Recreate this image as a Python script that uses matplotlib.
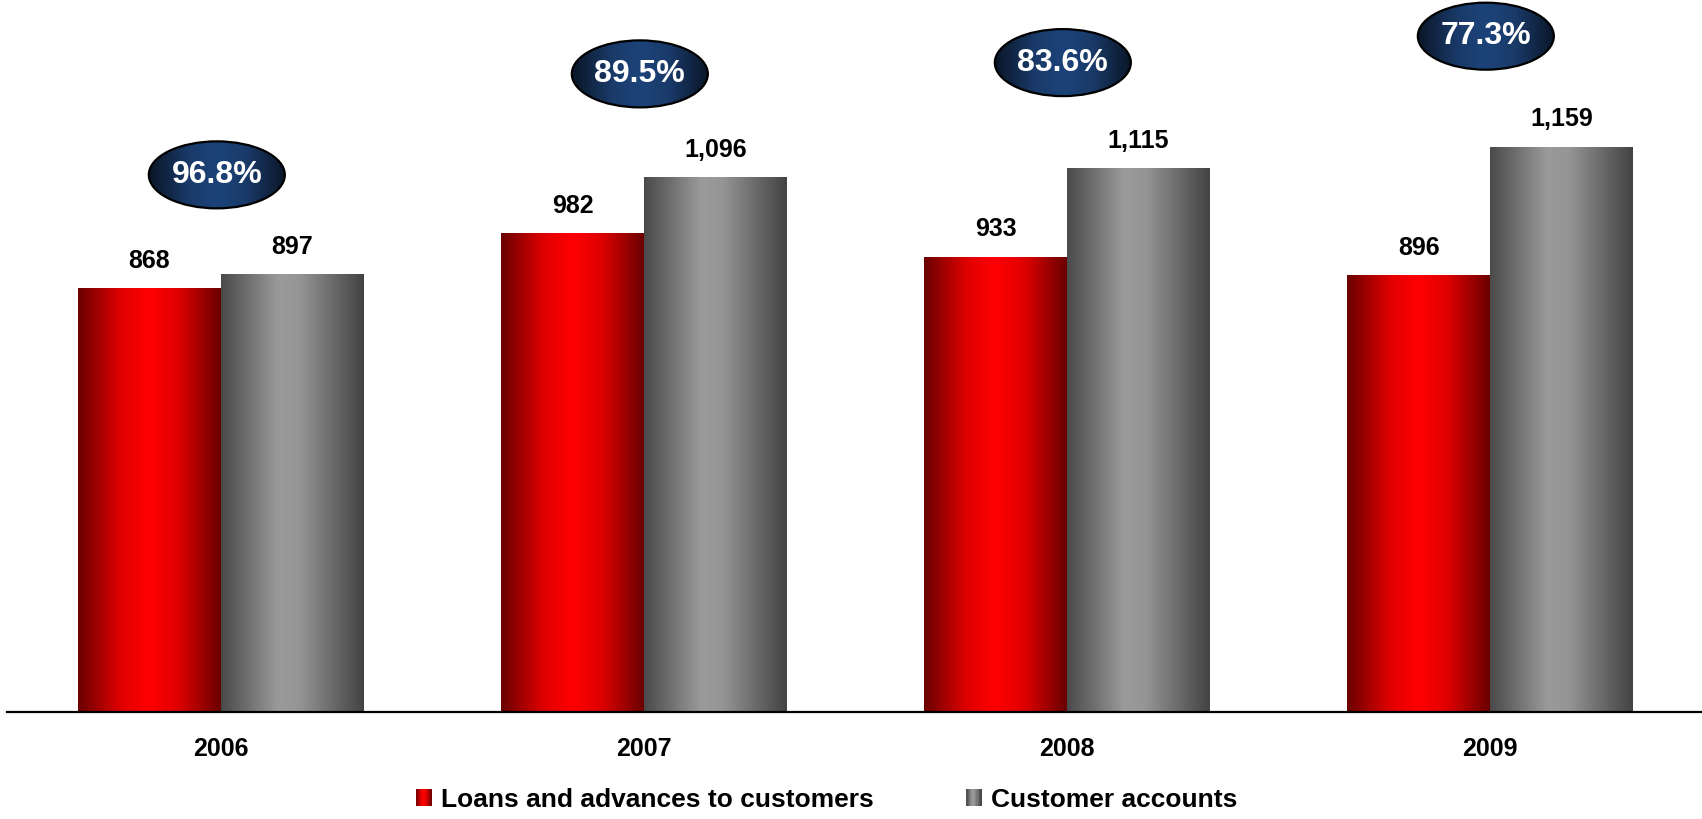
import numpy as np
import matplotlib
matplotlib.use("Agg")
import matplotlib.pyplot as plt
from matplotlib.patches import Ellipse, Rectangle
from matplotlib.colors import LinearSegmentedColormap
from matplotlib.legend_handler import HandlerBase

plt.rcParams['font.family'] = ['Liberation Sans', 'DejaVu Sans']

# ---- data -------------------------------------------------------------
years = ["2006", "2007", "2008", "2009"]
loans = [868, 982, 933, 896]
deposits = [897, 1096, 1115, 1159]
ratios = ["96.8%", "89.5%", "83.6%", "77.3%"]
series_names = ["Loans and advances to customers", "Customer accounts"]

# badge gap above the taller bar, in pixels (layout only)
badge_gap_px = [100, 104, 106, 111]

# ---- colour ramps (horizontal shading across each bar) ------------------
red_cmap = LinearSegmentedColormap.from_list(
    "red_shade",
    [(0.0, "#6a0000"), (0.3, "#e00000"), (0.5, "#ff0000"),
     (0.7, "#e00000"), (1.0, "#6a0000")])
grey_cmap = LinearSegmentedColormap.from_list(
    "grey_shade",
    [(0.0, "#4a4a4a"), (0.4, "#9a9a9a"), (0.55, "#959595"),
     (1.0, "#434343")])
navy_cmap = LinearSegmentedColormap.from_list(
    "navy_shade",
    [(0.0, "#0a1628"), (0.3, "#1a3b6a"), (0.5, "#1c4379"),
     (0.7, "#1a3b6a"), (1.0, "#0a1628")])

ramp = np.linspace(0, 1, 256)[None, :]

W, H = 1702, 819
fig = plt.figure(figsize=(W / 100, H / 100), dpi=100)
ax = fig.add_axes([7 / W, 107 / H, 1 - 7 / W, 712 / H])

x = np.arange(len(years))
bw = 0.338

bars_l = ax.bar(x - bw / 2, loans, width=bw, facecolor="none", edgecolor="none")
bars_d = ax.bar(x + bw / 2, deposits, width=bw, facecolor="none", edgecolor="none")


def shade_bar(patch, cmap):
    x0, y0 = patch.get_x(), patch.get_y()
    w, h = patch.get_width(), patch.get_height()
    ax.imshow(ramp, cmap=cmap, extent=[x0, x0 + w, y0, y0 + h],
              aspect="auto", interpolation="bilinear", zorder=2)


for p in bars_l:
    shade_bar(p, red_cmap)
for p in bars_d:
    shade_bar(p, grey_cmap)

# value labels
for xi, v in zip(x - bw / 2, loans):
    ax.annotate(f"{v:,}", (xi, v), xytext=(0, 15), textcoords="offset points",
                ha="center", va="baseline", fontsize=18, fontweight="bold")
for xi, v in zip(x + bw / 2, deposits):
    ax.annotate(f"{v:,}", (xi, v), xytext=(0, 15), textcoords="offset points",
                ha="center", va="baseline", fontsize=18, fontweight="bold")

ax.set_xlim(-0.506, 3.501)
ax.set_ylim(0, 1461)

# ratio badges above each year
px_per_unit = 712 / 1461
ell_w = 136 / 423
ell_h = 67 / px_per_unit
for xi, d, r, gap in zip(x, deposits, ratios, badge_gap_px):
    cx = xi - 0.01
    cy = d + gap / px_per_unit
    ell = Ellipse((cx, cy), ell_w, ell_h, facecolor="none",
                  edgecolor="black", linewidth=1.6, zorder=4)
    ax.add_patch(ell)
    im = ax.imshow(ramp, cmap=navy_cmap,
                   extent=[cx - ell_w / 2, cx + ell_w / 2,
                           cy - ell_h / 2, cy + ell_h / 2],
                   aspect="auto", interpolation="bilinear", zorder=3)
    im.set_clip_path(ell)
    ax.text(cx, cy, r, ha="center", va="center", color="white",
            fontsize=23, fontweight="bold", zorder=5)

ax.set_xlim(-0.506, 3.501)
ax.set_ylim(0, 1461)

for s in ["top", "right", "left"]:
    ax.spines[s].set_visible(False)
ax.spines["bottom"].set_linewidth(1.6)
ax.spines["bottom"].set_color("black")
ax.set_yticks([])
ax.set_xticks(x, years)
ax.tick_params(axis="x", length=0, pad=18, labelsize=18)
for lab in ax.get_xticklabels():
    lab.set_fontweight("bold")


# gradient legend keys
class GradientHandler(HandlerBase):
    def __init__(self, cmap):
        super().__init__()
        self.cmap = cmap

    def create_artists(self, legend, orig_handle, xdescent, ydescent,
                       width, height, fontsize, trans):
        n = 12
        arts = []
        for i in range(n):
            r = Rectangle((-xdescent + width * i / n, -ydescent), width / n + 0.2,
                          height, facecolor=self.cmap((i + 0.5) / n),
                          edgecolor="none", transform=trans)
            arts.append(r)
        return arts


h_red = Rectangle((0, 0), 1, 1)
h_grey = Rectangle((0, 0), 1.0, 1)
leg = fig.legend([h_red, h_grey], series_names,
                 handler_map={h_red: GradientHandler(red_cmap),
                              h_grey: GradientHandler(grey_cmap)},
                 loc="center", bbox_to_anchor=(827 / W, 1 - 800 / H),
                 ncol=2, frameon=False, fontsize=19, handlelength=0.57,
                 handleheight=0.62, handletextpad=0.38, columnspacing=3.5,
                 borderpad=0, borderaxespad=0)
for t in leg.get_texts():
    t.set_fontweight("bold")

fig.savefig("out.png", dpi=100)
